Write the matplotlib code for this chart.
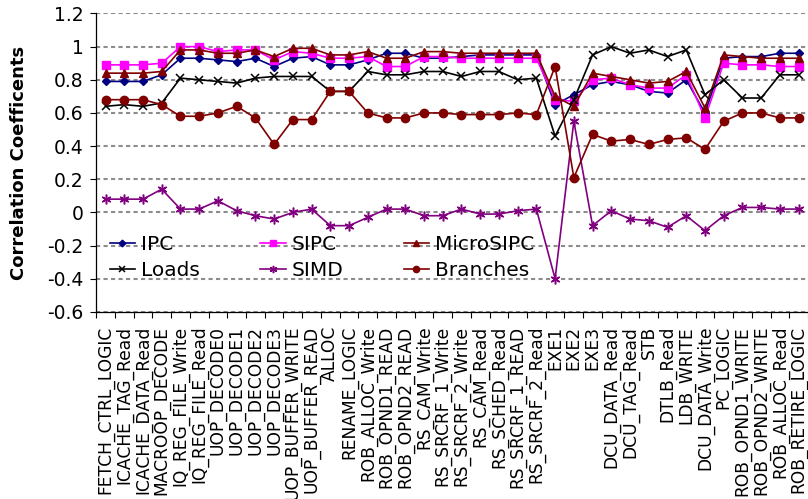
#!/usr/bin/env python3

import numpy as np
import matplotlib
matplotlib.use("Agg")
import matplotlib.pyplot as plt


units = ["FETCH_CTRL_LOGIC", "ICACHE_TAG_Read", "ICACHE_DATA_Read", "MACROOP_DECODE",
         "IQ_REG_FILE_Write", "IQ_REG_FILE_Read", "UOP_DECODE0", "UOP_DECODE1",
         "UOP_DECODE2", "UOP_DECODE3", "UOP_BUFFER_WRITE", "UOP_BUFFER_READ",
         "ALLOC", "RENAME_LOGIC", "ROB_ALLOC_Write", "ROB_OPND1_READ",
         "ROB_OPND2_READ", "RS_CAM_Write", "RS_SRCRF_1_Write", "RS_SRCRF_2_Write",
         "RS_CAM_Read", "RS_SCHED_Read", "RS_SRCRF_1_READ", "RS_SRCRF_2_Read",
         "EXE1", "EXE2", "EXE3", "DCU_DATA_Read", "DCU_TAG_Read", "STB",
         "DTLB_Read", "LDB_WRITE", "DCU_DATA_Write", "PC_LOGIC",
         "ROB_OPND1_WRITE", "ROB_OPND2_WRITE", "ROB_ALLOC_Read", "ROB_RETIRE_LOGIC"]

ipc = [0.79, 0.79, 0.79, 0.83, 0.93, 0.93, 0.92, 0.91, 0.93, 0.88, 0.93, 0.94,
       0.89, 0.89, 0.92, 0.96, 0.96, 0.93, 0.93, 0.94, 0.95, 0.95, 0.95, 0.95,
       0.65, 0.71, 0.77, 0.79, 0.77, 0.73, 0.72, 0.80, 0.60, 0.93, 0.94, 0.94, 0.96, 0.96]
sipc = [0.89, 0.89, 0.89, 0.90, 1.00, 1.00, 0.97, 0.98, 0.98, 0.92, 0.97, 0.96,
        0.93, 0.93, 0.94, 0.88, 0.88, 0.94, 0.94, 0.93, 0.93, 0.93, 0.93, 0.93,
        0.68, 0.67, 0.80, 0.81, 0.77, 0.75, 0.75, 0.83, 0.57, 0.90, 0.89, 0.89, 0.88, 0.88]
microsipc = [0.84, 0.84, 0.84, 0.85, 0.98, 0.98, 0.96, 0.96, 0.98, 0.94, 0.99, 0.99,
             0.95, 0.95, 0.97, 0.93, 0.93, 0.97, 0.97, 0.96, 0.96, 0.96, 0.96, 0.96,
             0.70, 0.64, 0.84, 0.82, 0.80, 0.78, 0.79, 0.85, 0.63, 0.95, 0.94, 0.93, 0.93, 0.93]
loads = [0.64, 0.65, 0.64, 0.66, 0.81, 0.80, 0.79, 0.78, 0.81, 0.82, 0.82, 0.82,
         0.73, 0.73, 0.85, 0.83, 0.83, 0.85, 0.85, 0.82, 0.85, 0.85, 0.80, 0.81,
         0.46, 0.68, 0.95, 1.00, 0.96, 0.98, 0.94, 0.98, 0.71, 0.80, 0.69, 0.69, 0.83, 0.83]
simd = [0.08, 0.08, 0.08, 0.14, 0.02, 0.02, 0.07, 0.01, -0.02, -0.04, 0.00, 0.02,
        -0.08, -0.08, -0.03, 0.02, 0.02, -0.02, -0.02, 0.02, -0.01, -0.01, 0.01, 0.02,
        -0.40, 0.55, -0.08, 0.01, -0.04, -0.05, -0.09, -0.02, -0.11, -0.02, 0.03, 0.03, 0.02, 0.02]
branches = [0.68, 0.68, 0.68, 0.65, 0.58, 0.58, 0.60, 0.64, 0.57, 0.41, 0.56, 0.56,
            0.73, 0.73, 0.60, 0.57, 0.57, 0.60, 0.60, 0.59, 0.59, 0.59, 0.60, 0.59,
            0.88, 0.21, 0.47, 0.43, 0.44, 0.41, 0.44, 0.45, 0.38, 0.55, 0.60, 0.60, 0.57, 0.57]

y_ticks = [-0.6, -0.4, -0.2, 0, 0.2, 0.4, 0.6, 0.8, 1, 1.2]
y_labels = ["-0.6", "-0.4", "-0.2", "0", "0.2", "0.4", "0.6", "0.8", "1", "1.2"]


def main():
	plt.rcParams['font.family'] = 'DejaVu Sans'
	plt.rcParams['axes.unicode_minus'] = False

	fig = plt.figure(figsize=(8.08, 4.99), dpi=100)
	ax = fig.add_axes([0.119, 0.375, 0.881, 0.598])

	x = np.arange(len(units))
	lw = 1.2
	h_ipc, = ax.plot(x, ipc, color="#000080", lw=lw, marker="D", ms=4.5, label="IPC")
	h_sipc, = ax.plot(x, sipc, color="#ff00ff", lw=lw, marker="s", ms=5.5, label="SIPC")
	h_micro, = ax.plot(x, microsipc, color="#800000", lw=lw, marker="^", ms=6, label="MicroSIPC")
	h_loads, = ax.plot(x, loads, color="black", lw=lw, marker="x", ms=6, mew=1.1, label="Loads")
	h_simd, = ax.plot(x, simd, color="#800080", lw=lw, marker=(6, 2, 0), ms=7, mew=1.1, label="SIMD")
	h_br, = ax.plot(x, branches, color="#800000", lw=lw, marker="o", ms=6, label="Branches")

	ax.set_xlim(-0.5, len(units) - 0.5)
	ax.set_ylim(-0.6, 1.2)
	ax.set_yticks(y_ticks)
	ax.set_yticklabels(y_labels, fontsize=13.5)
	ax.set_xticks(x)
	ax.set_xticklabels(units, rotation=90, fontsize=12.3, va="top", ha="center")
	ax.set_xticks(np.arange(-0.5, len(units), 1), minor=True)
	ax.tick_params(axis="x", which="major", length=0, pad=10)
	ax.tick_params(axis="x", which="minor", length=4, width=0.8, direction="out")
	ax.tick_params(axis="y", length=4, width=0.8, direction="out", pad=5)

	ax.grid(axis="y", color="#8c8c8c", lw=1.5, linestyle=(0, (2, 1.6)))
	ax.set_axisbelow(True)
	for side in ["top", "right"]:
		ax.spines[side].set_visible(False)
	ax.spines["left"].set_linewidth(0.9)
	ax.spines["bottom"].set_linewidth(0.9)

	fig.text(0.023, 0.673, "Correlation Coefficents", rotation=90, fontsize=13,
	         fontweight="bold", ha="center", va="center")

	ax.legend([h_ipc, h_loads, h_sipc, h_simd, h_micro, h_br],
	          ["IPC", "Loads", "SIPC", "SIMD", "MicroSIPC", "Branches"],
	          ncol=3, frameon=False, fontsize=14.5, loc="upper left",
	          bbox_to_anchor=(0.136, 0.529), bbox_transform=fig.transFigure,
	          borderpad=0, borderaxespad=0, handlelength=1.25, handletextpad=0.3,
	          columnspacing=3.0, labelspacing=0.35, markerscale=0.75)

	plt.savefig("out.png", dpi=100)


if __name__ == "__main__":
	main()
